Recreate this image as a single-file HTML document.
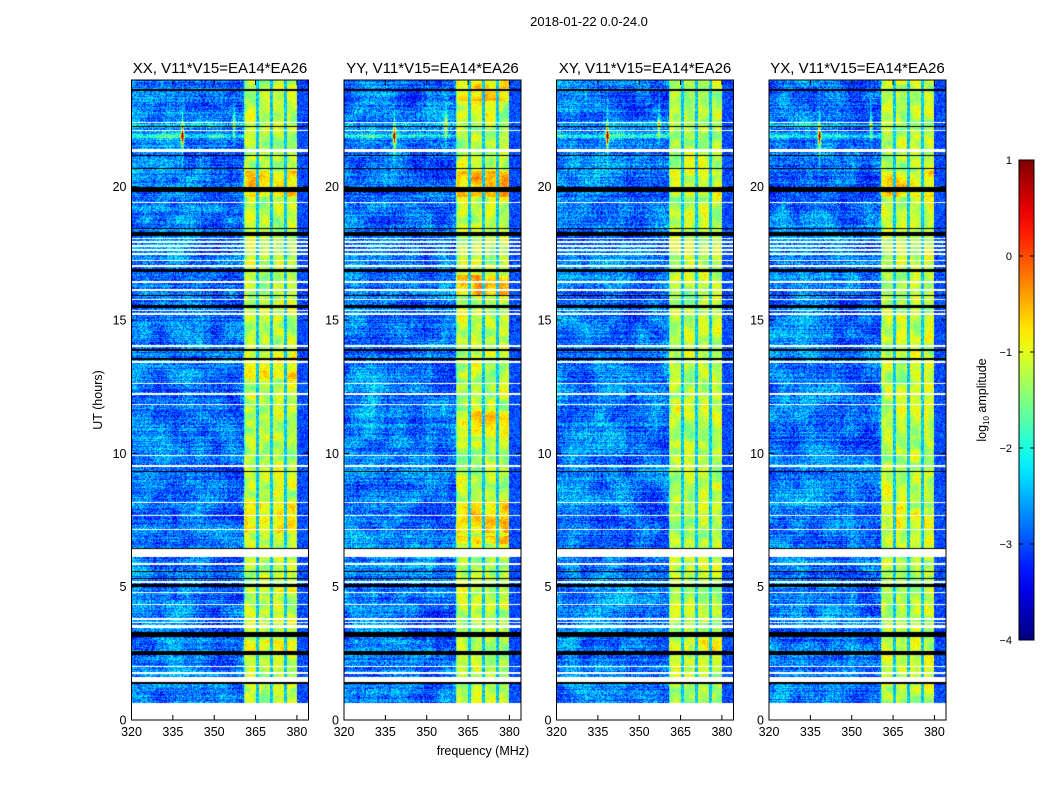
<!DOCTYPE html>
<html><head><meta charset="utf-8">
<style>
body{margin:0;background:#fff;width:1050px;height:800px;overflow:hidden;font-family:"Liberation Sans",sans-serif;}
#root{position:relative;width:1050px;height:800px;}
canvas{position:absolute;}
svg{position:absolute;left:0;top:0;}
</style></head><body>
<div id="root">
<svg id="svg" width="1050" height="800"></svg>
</div>
<script>
// ---- data ----
const panelTitles=["XX, V11*V15=EA14*EA26","YY, V11*V15=EA14*EA26","XY, V11*V15=EA14*EA26","YX, V11*V15=EA14*EA26"];
const xTicks=[320,335,350,365,380];
const yTicks=[0,5,10,15,20];
const cbTicks=[1,0,-1,-2,-3,-4];
const cbTickLabels=["1","0","\u22121","\u22122","\u22123","\u22124"];
const freqRange=[320,384.2];
const timeRange=[0,24];
const bandRange=[360.5,380];
const bandGaps=[365.6,370.6,375.6];
const dataStart=0.62;
// flagged (white) time intervals [start,end] hours
const whiteRows=[[0,0.62],[1.42,1.6],[1.74,1.8],[1.98,2.04],[3.45,3.55],[3.62,3.68],[3.74,3.82],[4.3,4.36],[4.75,4.8],[5.15,5.2],[5.82,5.88],[6.1,6.4],[7.12,7.17],[7.65,7.7],[8.12,8.17],[9.5,9.55],[9.9,9.95],[11.8,11.85],[12.2,12.25],[12.6,12.65],[13.4,13.45],[14.0,14.05],[15.18,15.25],[15.32,15.36],[15.75,15.8],[16.1,16.15],[16.4,16.45],[17.0,17.08],[17.2,17.25],[17.45,17.5],[17.6,17.65],[17.75,17.8],[17.9,17.95],[18.02,18.07],[19.38,19.44],[21.3,21.42],[22.07,22.13],[22.38,22.44]];
// black rows
const blackRows=[[1.35,1.42],[2.45,2.6],[3.12,3.3],[4.98,5.1],[5.3,5.34],[5.55,5.58],[6.4,6.44],[9.3,9.34],[13.5,13.56],[13.85,13.9],[15.45,15.55],[15.9,15.94],[16.8,16.9],[18.15,18.3],[18.4,18.45],[19.8,19.98],[20.65,20.7],[21.15,21.2],[22.22,22.28],[23.6,23.65]];
// bright (orange) band intervals per panel [start,end,boost]
const bandBoost=[
 [[19.6,20.6,0.5],[12.8,13.6,0.35],[7.0,8.2,0.3],[2.6,3.0,0.35],[4.8,5.0,0.25]],
 [[19.6,20.6,0.55],[15.9,16.7,0.55],[23.2,24,0.45],[7.0,8.2,0.45],[6.6,6.9,0.45],[10.6,11.6,0.35]],
 [[19.6,20.6,0.2],[2.6,3.0,0.25]],
 [[19.6,20.6,0.4],[7.2,8.0,0.25]]
];
const hotFreq=[338.3,357];
const hotTime=[21.9,22.3];
const hotAmp=[2.6,1.4];

// ---- layout ----
const panelX=[131.5,344,556.5,769];
const PW=177, PT=80, PB=720;
const cbX=1019, cbW=15, cbT=160, cbB=640;
const NS="http://www.w3.org/2000/svg";
const svg=document.getElementById('svg');
function xs(i,f){return panelX[i]+(f-freqRange[0])/(freqRange[1]-freqRange[0])*PW;}
function ys(h){return PB-(h-timeRange[0])/(timeRange[1]-timeRange[0])*(PB-PT);}
function cbY(v){return cbB-(v+4)/5*(cbB-cbT);}
function jet(t){t=Math.max(0,Math.min(1,t));
 const r=Math.max(0,Math.min(1,1.5-Math.abs(4*t-3))),g=Math.max(0,Math.min(1,1.5-Math.abs(4*t-2))),b=Math.max(0,Math.min(1,1.5-Math.abs(4*t-1)));
 return [r*255|0,g*255|0,b*255|0];}
function hash(a,b,c){let h=(a*374761393+b*668265263+c*2147483647)|0;h=(h^(h>>>13))*1274126177|0;h=h^(h>>>16);return ((h>>>0)%10000)/10000;}
function inR(arr,h){for(const r of arr){if(h>=r[0]&&h<r[1])return r;}return null;}
function mk(tag,attrs,parent){const e=document.createElementNS(NS,tag);for(const k in attrs)e.setAttribute(k,attrs[k]);(parent||svg).appendChild(e);return e;}
function smooth(x,y,s,seed){
 const gx=x/s,gy=y/s,ix=Math.floor(gx),iy=Math.floor(gy),fx=gx-ix,fy=gy-iy;
 const a=hash(ix,iy,seed),b=hash(ix+1,iy,seed),c=hash(ix,iy+1,seed),d=hash(ix+1,iy+1,seed);
 return (a*(1-fx)+b*fx)*(1-fy)+(c*(1-fx)+d*fx)*fy;}

const root=document.getElementById('root');
for(let p=0;p<4;p++){
 const cv=document.createElement('canvas');
 
 
 cv.width=PW;cv.height=PB-PT;cv.style.left=panelX[p]+'px';cv.style.top=PT+'px';
 root.insertBefore(cv,svg);
 const ctx=cv.getContext('2d');const img=ctx.createImageData(PW,PB-PT);
 const rowN=[];for(let y=0;y<PB-PT;y++)rowN.push(hash(y,p,7));
 const colN=[];for(let x=0;x<PW;x++)colN.push(hash(x,p,11));
 for(let y=0;y<PB-PT;y++){
  const h=timeRange[1]-(y+0.5)/(PB-PT)*(timeRange[1]-timeRange[0]);
  const white=inR(whiteRows,h)||h<dataStart, black=inR(blackRows,h);
  const boost=inR(bandBoost[p],h);
  for(let x=0;x<PW;x++){
   const f=freqRange[0]+(x+0.5)/PW*(freqRange[1]-freqRange[0]);
   let col;
   if(white)col=[255,255,255];else if(black)col=[0,0,0];else{
    const n=hash(x,y,p+1);
    let v;
    if(f>=bandRange[0]&&f<bandRange[1]){
     v=-1.2+(n-0.5)*0.5+(smooth(x,y,7,p+20)-0.5)*0.9+(boost?boost[2]:0);
     for(const g of bandGaps){if(Math.abs(f-g)<0.45)v=-2.4+(n-0.5)*0.6;}
     if(f<bandRange[0]+0.6)v-=0.6;
    }else if(f>=bandRange[1]){v=-3.0+(n-0.5)*0.8;}
    else{
     v=-2.85+(n-0.5)*1.1+(rowN[y]-0.5)*0.45+(colN[x]-0.5)*0.2+(smooth(x,y,14,p+30)-0.5)*0.75;
     if(f<345)v+=0.1;
    }
    for(let k=0;k<hotFreq.length;k++){
     const df=(f-hotFreq[k])/0.6, dt=(h-hotTime[k])/0.25;
     v+=hotAmp[k]*Math.exp(-df*df-dt*dt*0.5);
     if(f<bandRange[0])v+=0.35*hotAmp[k]*Math.exp(-dt*dt*8)+0.4*hotAmp[k]*Math.exp(-df*df*4-dt*dt*0.05);
    }
    col=jet((v+4)/5);
   }
   const i=(y*PW+x)*4;img.data[i]=col[0];img.data[i+1]=col[1];img.data[i+2]=col[2];img.data[i+3]=255;
  }
 }
 ctx.putImageData(img,0,0);

 const g=mk('g',{});
 
 
 const fr=mk('rect',{x:panelX[p],y:PT,width:PW,height:PB-PT,fill:'none',stroke:'#000','stroke-width':1},g);
 
 
 const t=mk('text',{x:panelX[p]+PW/2,y:73,'text-anchor':'middle','font-size':15},g);t.textContent=panelTitles[p];
 
 
 for(const v of xTicks){const x=xs(p,v);
  mk('line',{x1:x,x2:x,y1:PB,y2:PB-5,stroke:'#000'},g);mk('line',{x1:x,x2:x,y1:PT,y2:PT+5,stroke:'#000'},g);
  const tl=mk('text',{x:x,y:PB+16,'text-anchor':'middle','font-size':12.5},g);tl.textContent=v;
  
  
 }
 for(const v of yTicks){const y=ys(v);
  mk('line',{x1:panelX[p],x2:panelX[p]+5,y1:y,y2:y,stroke:'#000'},g);mk('line',{x1:panelX[p]+PW,x2:panelX[p]+PW-5,y1:y,y2:y,stroke:'#000'},g);
  const tl=mk('text',{x:panelX[p]-5,y:y+4.5,'text-anchor':'end','font-size':12.5},g);tl.textContent=v;
  
  
 }
}
let e=mk('text',{x:589,y:26,'text-anchor':'middle','font-size':13});e.textContent='2018-01-22 0.0-24.0';


e=mk('text',{x:483,y:755,'text-anchor':'middle','font-size':12.5});e.textContent='frequency (MHz)';


e=mk('text',{x:102,y:400,'text-anchor':'middle','font-size':12.5,transform:'rotate(-90 102 400)'});e.textContent='UT (hours)';


// colorbar
const defs=mk('defs',{});const lg=mk('linearGradient',{id:'jetg',x1:0,y1:1,x2:0,y2:0},defs);
for(let i=0;i<=20;i++){const c=jet(i/20);mk('stop',{offset:(i*5)+'%','stop-color':`rgb(${c[0]},${c[1]},${c[2]})`},lg);}
e=mk('rect',{x:cbX,y:cbT,width:cbW,height:cbB-cbT,fill:'url(#jetg)',stroke:'#000'});


cbTicks.forEach((v,i)=>{const y=cbY(v);
 mk('line',{x1:cbX+cbW-4,x2:cbX+cbW,y1:y,y2:y,stroke:'#000'});mk('line',{x1:cbX,x2:cbX+4,y1:y,y2:y,stroke:'#000'});
 const t=mk('text',{x:cbX-7,y:y+4,'text-anchor':'end','font-size':11});
 t.textContent=cbTickLabels[i];
 
 
});
e=mk('text',{x:986,y:400,'text-anchor':'middle','font-size':12.5,transform:'rotate(-90 986 400)'});e.innerHTML='log<tspan font-size="8" dy="3">10</tspan><tspan dy="-3"> amplitude</tspan>';


</script>
</body></html>
